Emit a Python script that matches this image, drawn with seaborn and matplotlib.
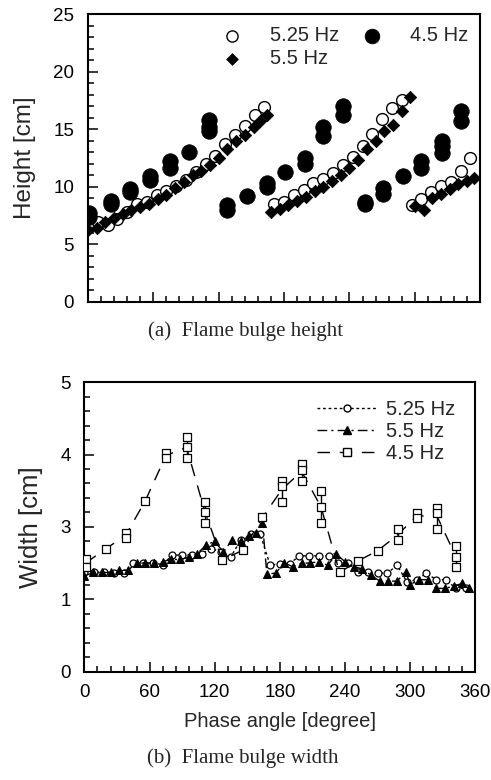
import numpy as np
import pandas as pd
import matplotlib
matplotlib.use("Agg")
import matplotlib.pyplot as plt
from matplotlib.lines import Line2D
from matplotlib.ticker import MultipleLocator
import seaborn as sns

# ─── DATA ─────────────────────────────────────────────────
# phase angles [degree]
phase_525 = [0, 9, 18, 27, 36, 45, 54, 63, 72, 81, 90, 99, 108, 117, 126, 135, 144, 153, 162,
             171, 180, 189, 198, 207, 216, 225, 234, 243, 252, 261, 270, 279, 288,
             297, 306, 315, 324, 333, 342, 351]
phase_55 = [0, 8, 16, 24, 32, 40, 48, 56, 64, 72, 80, 88, 96, 104, 112, 120, 128, 136, 144, 152, 158, 164,
            168, 176, 184, 192, 200, 208, 216, 224, 232, 240, 248, 256, 264, 272, 280, 288, 296,
            300, 308, 316, 324, 332, 340, 348, 354]

# (a) flame bulge height [cm]
height_525 = [6.6, 6.9, 6.7, 7.2, 7.8, 8.5, 8.7, 9.3, 9.6, 10.1, 10.6, 11.3, 12.0, 12.7, 13.7, 14.5, 15.3, 16.2, 16.9,
              8.5, 8.7, 9.3, 9.7, 10.3, 10.7, 11.2, 11.9, 12.6, 13.5, 14.6, 15.9, 16.8, 17.5,
              8.4, 8.9, 9.5, 10.1, 10.4, 11.4, 12.5]
height_55 = [6.2, 6.4, 6.9, 7.3, 7.6, 8.0, 8.2, 8.5, 8.9, 9.3, 9.9, 10.4, 11.0, 11.4, 11.9, 12.5, 13.3, 14.0, 14.5, 15.2, 15.7, 16.2,
             7.8, 8.1, 8.4, 8.8, 9.1, 9.6, 10.0, 10.5, 11.0, 11.6, 12.3, 13.3, 14.0, 14.8, 15.4, 16.6, 17.8,
             8.3, 8.0, 9.0, 9.4, 9.8, 10.2, 10.5, 10.8]
phase_45_h = [1, 1, 21, 21, 39, 39, 57, 57, 75, 75, 93, 111, 111, 111, 128, 128, 146, 164, 164, 181,
              199, 199, 216, 216, 234, 234, 254, 254, 271, 271, 289, 306, 306, 325, 325, 325, 342, 342]
height_45 = [7.7, 7.4, 8.8, 8.5, 9.8, 9.5, 10.9, 10.6, 12.2, 11.6, 13.0, 15.8, 15.2, 14.8, 8.4, 8.0, 9.2, 10.3, 10.0, 11.3,
             12.5, 12.0, 15.2, 14.4, 17.0, 16.2, 8.7, 8.5, 9.9, 9.4, 10.9, 12.2, 11.6, 14.0, 13.5, 12.9, 16.6, 15.7]

# (b) flame bulge width [cm] (axis positions; printed labels below)
width_525 = [2.38, 2.38, 2.38, 2.36, 2.36, 2.5, 2.5, 2.5, 2.48, 2.61, 2.61, 2.61, 2.63, 2.7, 2.65, 2.59, 2.82, 2.9, 2.9,
             2.47, 2.49, 2.49, 2.6, 2.6, 2.6, 2.6, 2.5, 2.5, 2.38, 2.38, 2.36, 2.36, 2.47,
             2.24, 2.27, 2.36, 2.27, 2.27, 2.15, 2.15]
width_55 = [2.32, 2.37, 2.37, 2.37, 2.4, 2.4, 2.5, 2.5, 2.5, 2.52, 2.55, 2.55, 2.58, 2.63, 2.75, 2.8, 2.65, 2.82, 2.8, 2.88, 2.92, 3.05,
            2.35, 2.36, 2.5, 2.45, 2.5, 2.5, 2.52, 2.47, 2.62, 2.52, 2.45, 2.42, 2.33, 2.25, 2.25, 2.25, 2.38,
            2.2, 2.27, 2.27, 2.15, 2.15, 2.18, 2.22, 2.15]
phase_45_w = [1, 1, 20, 38, 38, 56, 75, 75, 94, 94, 94, 111, 111, 111, 127, 146, 164, 182, 182, 182,
              200, 200, 200, 218, 218, 218, 235, 252, 270, 289, 289, 306, 306, 325, 325, 325, 342, 342, 342]
width_45 = [2.55, 2.45, 2.70, 2.92, 2.85, 3.36, 4.02, 3.95, 4.24, 4.11, 3.95, 3.35, 3.21, 3.06, 2.54, 2.68, 3.13,
            3.35, 3.64, 3.57, 3.87, 3.79, 3.64, 3.49, 3.28, 3.05, 2.37, 2.53, 2.67, 2.97, 2.82, 3.19, 3.12,
            3.26, 3.19, 2.97, 2.74, 2.59, 2.45]

width_ticks = [1, 2, 3, 4, 5]
width_ticklabels = ["0", "1", "3", "4", "5"]   # as printed in the original

labels = ["5.25 Hz", "5.5 Hz", "4.5 Hz"]

# ─── STYLE ────────────────────────────────────────────────
sns.set_style("ticks")
plt.rcParams["font.family"] = ["Liberation Sans", "DejaVu Sans"]
plt.rcParams["axes.linewidth"] = 1.5

fig = plt.figure(figsize=(4.91, 7.8), dpi=100)
ax1 = fig.add_axes([0.179, 0.613, 0.799, 0.369])
ax2 = fig.add_axes([0.172, 0.139, 0.796, 0.371])

def style_axis(ax):
    ax.tick_params(which="both", direction="in", top=False, right=False, colors="k", width=1.1)
    ax.tick_params(which="major", length=7)
    ax.tick_params(which="minor", length=4)
    for s in ax.spines.values():
        s.set_color("k")

# ─── (a) HEIGHT ───────────────────────────────────────────
sns.scatterplot(x=phase_525, y=height_525, ax=ax1, marker="o", s=72,
                facecolor="white", edgecolor="k", linewidth=1.0, label=labels[0], zorder=3)
sns.scatterplot(x=phase_55, y=height_55, ax=ax1, marker="D", s=40,
                color="k", edgecolor="k", linewidth=0.5, label=labels[1], zorder=4)
sns.scatterplot(x=phase_45_h, y=height_45, ax=ax1, marker="o", s=125,
                color="k", edgecolor="k", linewidth=0.5, label=labels[2], zorder=5)

ax1.set_xlim(0, 360)
ax1.set_ylim(0, 25)
ax1.xaxis.set_major_locator(MultipleLocator(60))
ax1.xaxis.set_minor_locator(MultipleLocator(12))
ax1.yaxis.set_major_locator(MultipleLocator(5))
ax1.yaxis.set_minor_locator(MultipleLocator(1))
ax1.set_xticklabels([])
ax1.set_xlabel("")
ax1.set_ylabel("Height [cm]", fontsize=17.5, labelpad=12)
ax1.tick_params(axis="y", labelsize=13.5, pad=10)
style_axis(ax1)
ax1.legend(loc="upper right", ncol=2, frameon=False, fontsize=14.5,
           handletextpad=0.9, columnspacing=0.6, labelspacing=0.2,
           borderaxespad=0.2, markerscale=0.95)

# ─── (b) WIDTH ────────────────────────────────────────────
sns.lineplot(x=phase_525, y=width_525, ax=ax2, color="k", linestyle=(0, (2, 2)), linewidth=1.0,
             marker="o", markersize=5, markerfacecolor="white", markeredgecolor="k",
             markeredgewidth=0.9, sort=False, label=labels[0])
sns.lineplot(x=phase_55, y=width_55, ax=ax2, color="k", linestyle=(0, (7, 3, 1.5, 3)), linewidth=1.0,
             marker="^", markersize=5.5, markerfacecolor="k", markeredgecolor="k",
             sort=False, label=labels[1])
df45 = pd.DataFrame({"phase": phase_45_w, "width": width_45})
sns.lineplot(data=df45, x="phase", y="width", ax=ax2, color="k", linestyle=(0, (9, 7)), linewidth=1.0,
             estimator="mean", errorbar=("pi", 100), err_style="bars",
             err_kws={"elinewidth": 1.0, "capsize": 0})
sns.scatterplot(data=df45, x="phase", y="width", ax=ax2, marker="s", s=36,
                facecolor="white", edgecolor="k", linewidth=0.9, zorder=5)

ax2.set_xlim(0, 360)
ax2.set_ylim(1, 5)
ax2.xaxis.set_major_locator(MultipleLocator(60))
ax2.xaxis.set_minor_locator(MultipleLocator(12))
ax2.set_yticks(width_ticks)
ax2.set_yticklabels(width_ticklabels)
ax2.yaxis.set_minor_locator(MultipleLocator(0.2))
ax2.set_xlabel("Phase angle [degree]", fontsize=14.5, labelpad=8)
ax2.set_ylabel("Width [cm]", fontsize=18.5, labelpad=12)
ax2.tick_params(axis="both", labelsize=13.5)
ax2.tick_params(axis="y", pad=10)
ax2.tick_params(axis="x", pad=9)
style_axis(ax2)

handles = [
    Line2D([], [], color="k", linestyle=(0, (2, 2)), linewidth=1.0, marker="o", markersize=5,
           markerfacecolor="white", markeredgecolor="k"),
    Line2D([], [], color="k", linestyle=(0, (7, 3, 1.5, 3)), linewidth=1.0, marker="^", markersize=5.5,
           markerfacecolor="k"),
    Line2D([], [], color="k", linestyle=(0, (9, 7)), linewidth=1.0, marker="s", markersize=5.5,
           markerfacecolor="white", markeredgecolor="k"),
]
ax2.legend(handles, labels, loc="upper right", frameon=False, fontsize=14.5,
           handlelength=2.9, handletextpad=0.5, labelspacing=0.15,
           bbox_to_anchor=(0.995, 1.0))

# ─── CAPTIONS ─────────────────────────────────────────────
fig.text(0.50, 0.576, "(a)  Flame bulge height", ha="center", va="center",
         fontsize=15, family=["Liberation Serif", "DejaVu Serif"])
fig.text(0.495, 0.028, "(b)  Flame bulge width", ha="center", va="center",
         fontsize=15, family=["Liberation Serif", "DejaVu Serif"])

fig.savefig("out.png", dpi=100)
